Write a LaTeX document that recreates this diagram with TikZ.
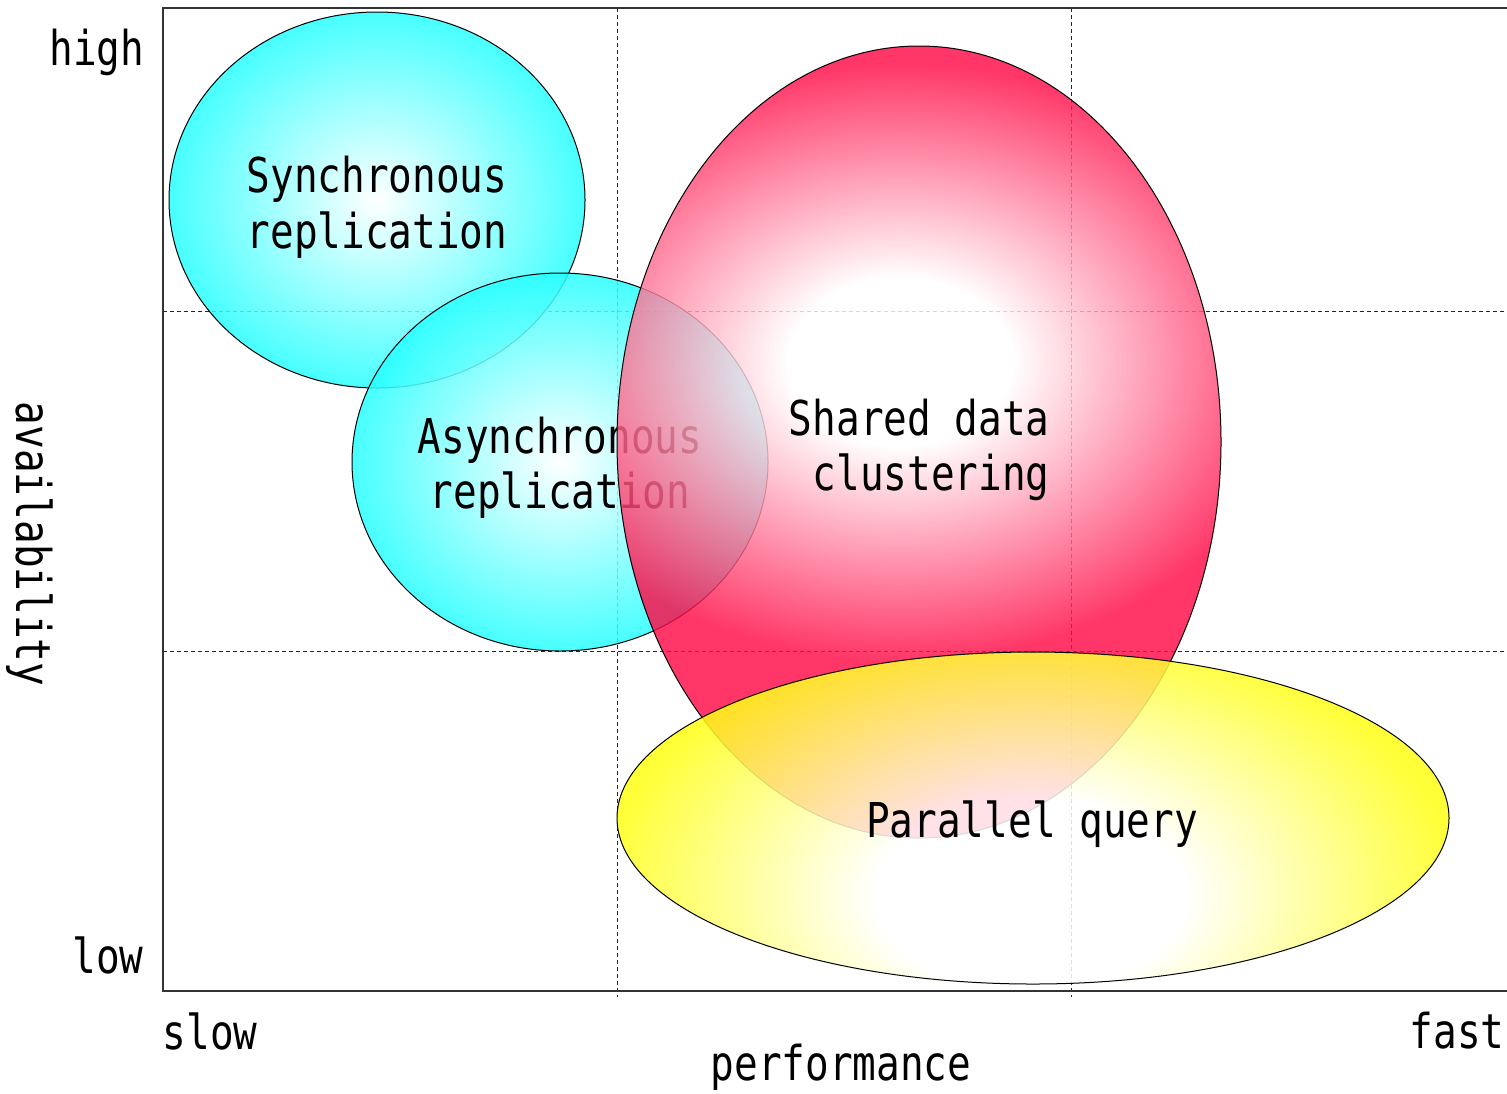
\documentclass[tikz,border=0pt]{standalone}
\usepackage{fontspec}
\newfontfamily\gfont[FakeStretch=0.82]{DejaVu Sans Mono}
\definecolor{cyanc}{RGB}{40,255,255}
\definecolor{redc}{RGB}{255,10,70}
\definecolor{yelc}{RGB}{255,255,20}
\pgfdeclareradialshading{redshade}{\pgfpoint{0bp}{0bp}}{color(0bp)=(white); color(3.5bp)=(white); color(12.5bp)=(redc); color(50bp)=(redc)}
\pgfdeclareradialshading{yelshade}{\pgfpoint{0bp}{0bp}}{color(0bp)=(white); color(4.5bp)=(white); color(12.5bp)=(yelc); color(50bp)=(yelc)}
\begin{document}
\begin{tikzpicture}[x=0.5pt,y=-0.5pt,
  txt/.style={font=\gfont\fontsize{24}{28}\selectfont, inner sep=0pt, anchor=base},
  gridline/.style={draw=black!85, line width=0.5pt, dash pattern=on 2pt off 1.5pt},
  outline/.style={draw=black, line width=0.5pt},
  frameline/.style={draw=black!80, line width=0.8pt}]
\useasboundingbox (0,0) rectangle (1507,1093);
\fill[white] (0,0) rectangle (1507,1093);
% grid
\draw[gridline] (617,8) -- (617,997);
\draw[gridline] (1071,8) -- (1071,997);
\draw[gridline] (163,311) -- (1507,311);
\draw[gridline] (163,651) -- (1507,651);
% frame
\draw[frameline] (1507,8) -- (163,8) -- (163,991) -- (1507,991);
% synchronous
\shade[inner color=white, outer color=cyanc, fill opacity=0.85] (377,200) ellipse (208 and 188);
\draw[outline] (377,200) ellipse (208 and 188);
\node[txt] (sync1) at (377,192) {Synchronous};
\node[txt] (sync2) at (377,248) {replication};
% asynchronous
\shade[inner color=white, outer color=cyanc, fill opacity=0.85] (560,462) ellipse (208 and 189);
\draw[outline] (560,462) ellipse (208 and 189);
\node[txt] (async1) at (560,453) {Asynchronous};
\node[txt] (async2) at (560,508) {replication};
% shared data clustering
\begin{scope}
\clip (919,442) ellipse (302 and 396);
\shade[shading=redshade, fill opacity=0.82] (900,362) ellipse (800 and 600);
\end{scope}
\draw[outline] (919,442) ellipse (302 and 396);
\node[txt, anchor=base east] (sd1) at (1050,435) {Shared data};
\node[txt, anchor=base east] (sd2) at (1050,490) {clustering};
% parallel query
\begin{scope}
\clip (1033,818) ellipse (416 and 166);
\shade[shading=yelshade, fill opacity=0.85] (1030,895) ellipse (860 and 540);
\end{scope}
\draw[outline] (1033,818) ellipse (416 and 166);
\node[txt] (pq) at (1032,837) {Parallel query};
% axis labels
\node[txt] (high) at (97,65) {high};
\node[txt] (low) at (108,973) {low};
\node[txt] (slow) at (210,1049) {slow};
\node[txt] (fast) at (1457,1048) {fast};
\node[txt] (perf) at (841,1080) {performance};
\node[txt, rotate=-90] (avail) at (17,544) {availability};
\end{tikzpicture}
\end{document}
